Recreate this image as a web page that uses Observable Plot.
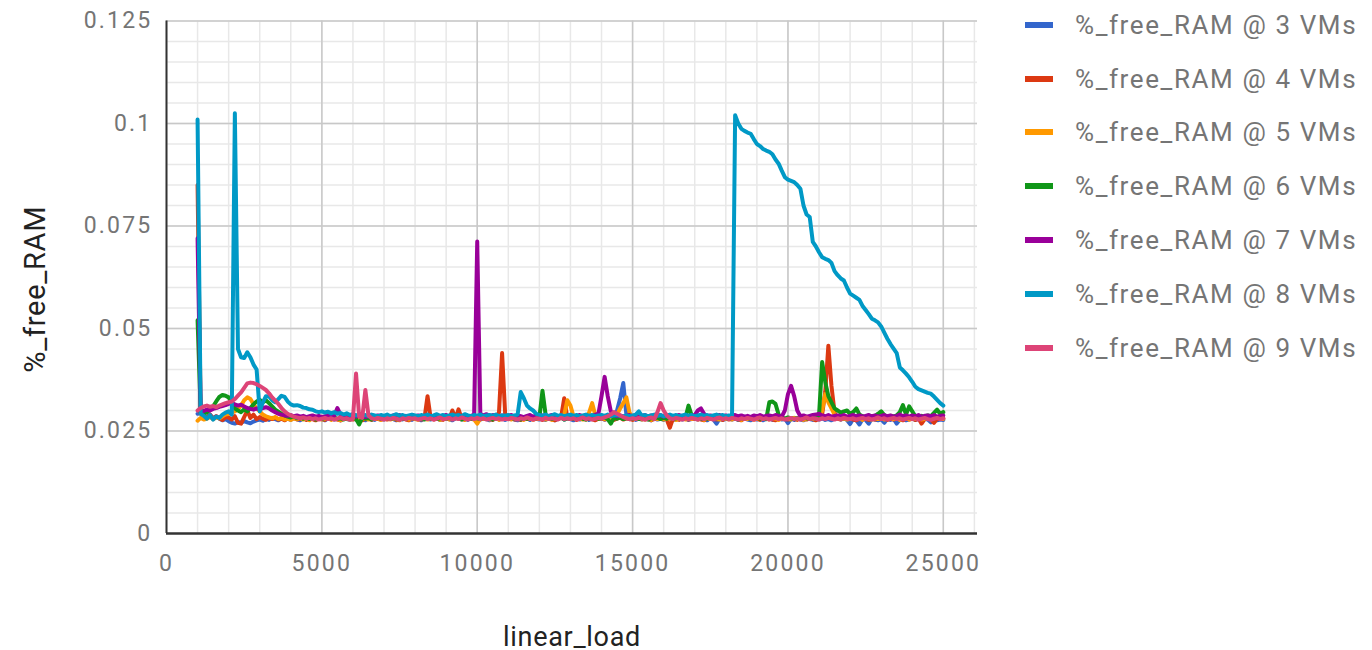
<!DOCTYPE html>
<html>
<head>
<meta charset="utf-8">
<script src="https://cdn.jsdelivr.net/npm/d3@7"></script>
<script src="https://cdn.jsdelivr.net/npm/@observablehq/plot@0.6"></script>
<style>
  html, body { margin: 0; padding: 0; background: #fff; }
  #chart { position: relative; width: 1372px; height: 650px; }
  #chart svg text { letter-spacing: 2.2px; }
  #chart svg g[aria-label="text"] text { letter-spacing: 0.7px; }
  #legend { position: absolute; left: 1025px; top: -2px; font-family: Roboto, sans-serif; font-size: 26px; color: #757575; }
  #legend .row { display: flex; align-items: center; height: 53.8px; white-space: nowrap; letter-spacing: 1.6px; }
  #legend .sw { width: 28px; height: 6px; margin-right: 22px; }
</style>
</head>
<body>
<div id="chart"></div>
<script>
// Load steps shared by every series (1000 to 25000, every 100)
const linearLoad = d3.range(1000, 25001, 100);

const seriesNames = [
  "%_free_RAM @ 3 VMs", "%_free_RAM @ 4 VMs", "%_free_RAM @ 5 VMs", "%_free_RAM @ 6 VMs",
  "%_free_RAM @ 7 VMs", "%_free_RAM @ 8 VMs", "%_free_RAM @ 9 VMs"
];
const seriesColors = ["#3366cc", "#dc3912", "#ff9900", "#109618", "#990099", "#0099c6", "#dd4477"];

const xTicks = [0, 5000, 10000, 15000, 20000, 25000];
const yTicks = [0, 0.025, 0.05, 0.075, 0.1, 0.125];
const xMinorTicks = d3.range(0, 26001, 1000);
const yMinorTicks = d3.range(0, 0.1251, 0.005);

const ram3VMs = [
  .0292,.0295,.0288,.0284,.0290,.0281,.0286,.0280,.0276,.0279,
  .0274,.0270,.0268,.0272,.0270,.0274,.0271,.0269,.0273,.0276,
  .0278,.0275,.0280,.0277,.0282,.0279,.0276,.0281,.0278,.0280,
  .0277,.0283,.0279,.0276,.0281,.0278,.0284,.0280,.0277,.0282,
  .0279,.0276,.0281,.0285,.0278,.0280,.0276,.0283,.0279,.0277,
  .0281,.0278,.0284,.0280,.0276,.0282,.0279,.0277,.0283,.0280,
  .0278,.0282,.0287,.0279,.0276,.0281,.0278,.0284,.0280,.0277,
  .0282,.0279,.0276,.0283,.0280,.0278,.0285,.0281,.0277,.0280,
  .0283,.0279,.0276,.0281,.0284,.0278,.0280,.0277,.0282,.0279,
  .0281,.0278,.0283,.0279,.0276,.0280,.0284,.0278,.0281,.0277,
  .0280,.0283,.0278,.0276,.0282,.0279,.0281,.0277,.0284,.0280,
  .0278,.0281,.0277,.0283,.0279,.0276,.0280,.0285,.0278,.0281,
  .0279,.0276,.0282,.0278,.0281,.0284,.0277,.0280,.0283,.0279,
  .0281,.0278,.0280,.0284,.0282,.0300,.0330,.0367,.0290,.0279,
  .0282,.0277,.0280,.0278,.0283,.0279,.0276,.0281,.0278,.0280,
  .0277,.0282,.0279,.0276,.0280,.0283,.0278,.0281,.0277,.0279,
  .0281,.0278,.0283,.0279,.0276,.0282,.0278,.0268,.0280,.0277,
  .0279,.0282,.0278,.0281,.0277,.0280,.0283,.0278,.0276,.0281,
  .0278,.0281,.0276,.0280,.0282,.0277,.0279,.0283,.0278,.0280,
  .0269,.0280,.0277,.0281,.0278,.0276,.0282,.0279,.0277,.0280,
  .0278,.0281,.0277,.0279,.0276,.0280,.0283,.0278,.0281,.0277,
  .0267,.0280,.0276,.0266,.0279,.0277,.0268,.0281,.0278,.0276,
  .0279,.0270,.0281,.0277,.0280,.0268,.0278,.0282,.0276,.0279,
  .0281,.0277,.0279,.0276,.0280,.0278,.0271,.0279,.0276,.0278,
  .0277
];

const ram4VMs = [
  .0850,.0292,.0287,.0283,.0290,.0280,.0286,.0281,.0277,.0284,
  .0283,.0278,.0286,.0270,.0268,.0284,.0300,.0282,.0290,.0279,
  .0284,.0280,.0277,.0282,.0279,.0283,.0278,.0280,.0276,.0281,
  .0279,.0282,.0278,.0280,.0283,.0277,.0281,.0279,.0276,.0282,
  .0280,.0277,.0283,.0279,.0281,.0278,.0276,.0282,.0279,.0280,
  .0278,.0281,.0279,.0276,.0282,.0280,.0277,.0283,.0279,.0278,
  .0281,.0278,.0280,.0283,.0277,.0279,.0282,.0278,.0276,.0281,
  .0279,.0282,.0278,.0280,.0335,.0282,.0278,.0281,.0279,.0277,
  .0282,.0279,.0300,.0281,.0303,.0280,.0278,.0283,.0279,.0281,
  .0280,.0278,.0282,.0279,.0281,.0277,.0283,.0295,.0440,.0290,
  .0279,.0282,.0278,.0280,.0277,.0281,.0279,.0283,.0278,.0280,
  .0281,.0277,.0280,.0282,.0279,.0276,.0281,.0284,.0330,.0282,
  .0279,.0281,.0277,.0280,.0283,.0278,.0281,.0279,.0276,.0280,
  .0282,.0278,.0281,.0279,.0277,.0280,.0283,.0278,.0281,.0279,
  .0277,.0281,.0279,.0282,.0278,.0280,.0276,.0281,.0283,.0279,
  .0280,.0278,.0258,.0281,.0279,.0277,.0282,.0280,.0278,.0281,
  .0279,.0282,.0278,.0276,.0281,.0279,.0283,.0278,.0280,.0277,
  .0281,.0278,.0280,.0283,.0279,.0276,.0282,.0279,.0281,.0278,
  .0280,.0277,.0281,.0279,.0282,.0278,.0276,.0280,.0283,.0279,
  .0278,.0281,.0279,.0277,.0282,.0280,.0278,.0281,.0279,.0276,
  .0280,.0290,.0345,.0458,.0360,.0295,.0280,.0278,.0282,.0279,
  .0281,.0278,.0276,.0280,.0283,.0279,.0277,.0281,.0278,.0280,
  .0279,.0282,.0277,.0280,.0278,.0281,.0279,.0276,.0282,.0278,
  .0280,.0277,.0281,.0268,.0279,.0282,.0278,.0270,.0280,.0279,
  .0281
];

const ram5VMs = [
  .0275,.0282,.0278,.0280,.0284,.0279,.0283,.0281,.0286,.0290,
  .0292,.0295,.0298,.0304,.0312,.0325,.0332,.0328,.0315,.0305,
  .0298,.0290,.0286,.0283,.0281,.0284,.0279,.0282,.0278,.0280,
  .0277,.0281,.0279,.0283,.0278,.0280,.0276,.0282,.0279,.0281,
  .0278,.0280,.0283,.0277,.0281,.0279,.0276,.0282,.0280,.0278,
  .0281,.0279,.0277,.0282,.0280,.0278,.0283,.0279,.0281,.0277,
  .0280,.0282,.0278,.0281,.0279,.0276,.0283,.0280,.0278,.0281,
  .0279,.0277,.0282,.0280,.0278,.0281,.0279,.0283,.0277,.0280,
  .0282,.0278,.0280,.0286,.0279,.0281,.0277,.0282,.0280,.0278,
  .0268,.0281,.0279,.0283,.0278,.0280,.0282,.0277,.0281,.0279,
  .0280,.0278,.0282,.0279,.0281,.0277,.0283,.0280,.0278,.0281,
  .0279,.0282,.0278,.0280,.0277,.0281,.0279,.0283,.0290,.0325,
  .0312,.0285,.0279,.0281,.0278,.0280,.0295,.0318,.0288,.0280,
  .0282,.0279,.0281,.0278,.0283,.0290,.0305,.0318,.0332,.0295,
  .0281,.0279,.0282,.0278,.0280,.0283,.0277,.0281,.0279,.0280,
  .0278,.0282,.0279,.0281,.0277,.0280,.0283,.0278,.0281,.0279,
  .0282,.0278,.0280,.0277,.0281,.0279,.0283,.0280,.0278,.0281,
  .0279,.0281,.0278,.0283,.0280,.0277,.0281,.0279,.0282,.0278,
  .0280,.0283,.0279,.0281,.0278,.0282,.0280,.0277,.0281,.0279,
  .0281,.0278,.0282,.0279,.0281,.0277,.0280,.0283,.0279,.0280,
  .0282,.0300,.0340,.0320,.0305,.0290,.0282,.0279,.0281,.0278,
  .0280,.0282,.0279,.0281,.0277,.0283,.0280,.0278,.0281,.0279,
  .0282,.0278,.0280,.0283,.0279,.0281,.0277,.0280,.0282,.0278,
  .0281,.0279,.0282,.0278,.0280,.0283,.0279,.0281,.0284,.0280,
  .0279
];

const ram6VMs = [
  .0520,.0295,.0292,.0296,.0302,.0310,.0322,.0333,.0338,.0336,
  .0332,.0318,.0305,.0300,.0296,.0303,.0298,.0306,.0315,.0322,
  .0326,.0320,.0325,.0318,.0310,.0302,.0297,.0292,.0288,.0285,
  .0283,.0286,.0281,.0284,.0280,.0283,.0279,.0282,.0278,.0281,
  .0279,.0282,.0284,.0280,.0283,.0279,.0281,.0278,.0282,.0280,
  .0282,.0279,.0266,.0283,.0280,.0282,.0278,.0281,.0284,.0279,
  .0281,.0283,.0279,.0282,.0280,.0278,.0282,.0279,.0283,.0280,
  .0282,.0279,.0281,.0278,.0283,.0280,.0282,.0279,.0281,.0284,
  .0280,.0282,.0279,.0283,.0281,.0278,.0282,.0280,.0279,.0283,
  .0281,.0279,.0283,.0280,.0282,.0278,.0281,.0283,.0279,.0282,
  .0280,.0283,.0279,.0281,.0278,.0282,.0280,.0283,.0279,.0281,
  .0283,.0348,.0290,.0281,.0279,.0282,.0280,.0283,.0278,.0281,
  .0282,.0279,.0281,.0283,.0280,.0278,.0282,.0279,.0283,.0280,
  .0281,.0283,.0279,.0268,.0282,.0280,.0283,.0279,.0281,.0282,
  .0280,.0282,.0279,.0283,.0281,.0278,.0282,.0280,.0283,.0279,
  .0282,.0280,.0283,.0279,.0281,.0283,.0280,.0282,.0312,.0288,
  .0281,.0283,.0279,.0282,.0280,.0283,.0279,.0281,.0284,.0280,
  .0282,.0279,.0283,.0281,.0278,.0282,.0280,.0283,.0279,.0281,
  .0283,.0280,.0282,.0279,.0320,.0322,.0316,.0290,.0282,.0280,
  .0283,.0281,.0279,.0282,.0280,.0283,.0281,.0279,.0282,.0280,
  .0288,.0418,.0370,.0335,.0320,.0305,.0300,.0295,.0298,.0300,
  .0292,.0296,.0305,.0290,.0286,.0284,.0288,.0285,.0287,.0292,
  .0298,.0289,.0284,.0287,.0285,.0288,.0296,.0313,.0290,.0310,
  .0298,.0286,.0284,.0287,.0285,.0288,.0286,.0294,.0302,.0292,
  .0296
];

const ram7VMs = [
  .0720,.0296,.0299,.0302,.0300,.0304,.0306,.0309,.0311,.0313,
  .0316,.0318,.0315,.0312,.0314,.0310,.0306,.0304,.0302,.0305,
  .0303,.0306,.0308,.0305,.0300,.0296,.0292,.0290,.0288,.0287,
  .0289,.0286,.0288,.0285,.0287,.0284,.0286,.0288,.0285,.0287,
  .0284,.0286,.0289,.0285,.0288,.0306,.0290,.0286,.0288,.0285,
  .0287,.0285,.0288,.0286,.0284,.0287,.0289,.0285,.0288,.0286,
  .0284,.0287,.0285,.0288,.0286,.0289,.0285,.0287,.0284,.0288,
  .0286,.0288,.0285,.0287,.0289,.0286,.0284,.0288,.0285,.0287,
  .0289,.0285,.0287,.0284,.0288,.0286,.0289,.0285,.0287,.0290,
  .0712,.0292,.0288,.0291,.0286,.0289,.0287,.0285,.0288,.0286,
  .0287,.0289,.0285,.0288,.0286,.0284,.0287,.0289,.0285,.0288,
  .0286,.0288,.0285,.0287,.0289,.0286,.0284,.0288,.0285,.0287,
  .0288,.0285,.0287,.0289,.0286,.0288,.0284,.0287,.0290,.0292,
  .0335,.0382,.0335,.0298,.0289,.0286,.0288,.0285,.0287,.0289,
  .0286,.0288,.0285,.0287,.0289,.0286,.0288,.0285,.0287,.0289,
  .0285,.0288,.0286,.0284,.0287,.0289,.0286,.0288,.0285,.0287,
  .0289,.0300,.0305,.0292,.0286,.0288,.0285,.0287,.0289,.0286,
  .0288,.0285,.0287,.0289,.0286,.0288,.0285,.0287,.0284,.0288,
  .0286,.0289,.0285,.0287,.0288,.0286,.0289,.0287,.0285,.0300,
  .0340,.0360,.0335,.0300,.0286,.0288,.0285,.0287,.0289,.0290,
  .0292,.0288,.0286,.0289,.0285,.0287,.0288,.0286,.0289,.0285,
  .0287,.0289,.0286,.0288,.0285,.0287,.0289,.0286,.0288,.0285,
  .0287,.0289,.0286,.0288,.0285,.0287,.0290,.0286,.0288,.0285,
  .0288,.0286,.0289,.0285,.0287,.0288,.0286,.0289,.0285,.0287,
  .0288
];

const ram8VMs = [
  .1010,.0292,.0287,.0280,.0289,.0278,.0285,.0282,.0290,.0295,
  .0298,.0290,.1025,.0450,.0430,.0428,.0442,.0430,.0412,.0400,
  .0298,.0320,.0335,.0334,.0325,.0320,.0328,.0336,.0333,.0322,
  .0315,.0312,.0313,.0311,.0307,.0306,.0303,.0302,.0298,.0296,
  .0298,.0295,.0297,.0293,.0296,.0292,.0294,.0290,.0293,.0289,
  .0291,.0288,.0290,.0287,.0289,.0286,.0290,.0288,.0286,.0289,
  .0287,.0290,.0286,.0288,.0291,.0287,.0289,.0286,.0288,.0290,
  .0288,.0286,.0289,.0287,.0290,.0286,.0288,.0291,.0287,.0289,
  .0286,.0288,.0290,.0287,.0289,.0286,.0291,.0288,.0286,.0289,
  .0287,.0290,.0286,.0288,.0289,.0287,.0290,.0286,.0288,.0287,
  .0289,.0286,.0288,.0290,.0345,.0330,.0312,.0305,.0300,.0292,
  .0289,.0287,.0290,.0286,.0288,.0291,.0287,.0289,.0286,.0288,
  .0290,.0287,.0289,.0286,.0288,.0290,.0287,.0289,.0286,.0288,
  .0289,.0287,.0290,.0286,.0288,.0289,.0287,.0285,.0288,.0286,
  .0288,.0290,.0298,.0287,.0289,.0286,.0288,.0290,.0287,.0289,
  .0286,.0288,.0290,.0287,.0289,.0286,.0288,.0290,.0287,.0289,
  .0286,.0288,.0290,.0287,.0289,.0286,.0288,.0290,.0287,.0289,
  .0286,.0288,.0287,.1020,.1000,.0987,.0982,.0978,.0975,.0962,
  .0950,.0945,.0938,.0934,.0931,.0925,.0912,.0902,.0885,.0869,
  .0863,.0860,.0857,.0850,.0841,.0800,.0778,.0772,.0711,.0700,
  .0686,.0674,.0670,.0667,.0660,.0640,.0630,.0622,.0617,.0600,
  .0585,.0580,.0575,.0570,.0555,.0545,.0535,.0524,.0520,.0515,
  .0505,.0490,.0475,.0462,.0451,.0440,.0405,.0398,.0390,.0381,
  .0370,.0358,.0352,.0349,.0346,.0343,.0341,.0334,.0326,.0318,
  .0312
];

const ram9VMs = [
  .0300,.0306,.0310,.0312,.0309,.0311,.0308,.0312,.0315,.0318,
  .0320,.0322,.0328,.0336,.0344,.0355,.0366,.0368,.0367,.0364,
  .0360,.0355,.0350,.0342,.0332,.0324,.0316,.0306,.0298,.0292,
  .0288,.0285,.0283,.0281,.0283,.0280,.0282,.0279,.0281,.0278,
  .0280,.0282,.0279,.0281,.0278,.0280,.0283,.0279,.0281,.0278,
  .0280,.0390,.0285,.0282,.0350,.0288,.0281,.0279,.0282,.0280,
  .0278,.0281,.0279,.0282,.0280,.0277,.0281,.0279,.0282,.0280,
  .0281,.0278,.0280,.0282,.0279,.0281,.0278,.0280,.0283,.0279,
  .0280,.0282,.0278,.0281,.0279,.0283,.0280,.0278,.0281,.0279,
  .0282,.0279,.0281,.0278,.0280,.0282,.0279,.0281,.0278,.0280,
  .0279,.0282,.0280,.0278,.0281,.0279,.0283,.0280,.0278,.0281,
  .0280,.0278,.0282,.0279,.0281,.0280,.0278,.0282,.0279,.0281,
  .0279,.0281,.0278,.0280,.0283,.0279,.0281,.0278,.0280,.0282,
  .0280,.0283,.0286,.0290,.0296,.0292,.0288,.0284,.0281,.0279,
  .0281,.0279,.0282,.0280,.0278,.0281,.0283,.0279,.0296,.0318,
  .0300,.0288,.0281,.0279,.0282,.0280,.0278,.0281,.0279,.0282,
  .0280,.0278,.0281,.0279,.0282,.0280,.0278,.0281,.0283,.0279,
  .0281,.0279,.0282,.0280,.0278,.0281,.0279,.0282,.0280,.0278,
  .0281,.0283,.0279,.0281,.0278,.0280,.0282,.0279,.0281,.0278,
  .0280,.0282,.0279,.0281,.0278,.0280,.0283,.0279,.0281,.0280,
  .0278,.0281,.0279,.0282,.0280,.0278,.0281,.0279,.0282,.0280,
  .0279,.0281,.0278,.0280,.0282,.0279,.0281,.0278,.0280,.0283,
  .0279,.0281,.0278,.0280,.0282,.0279,.0281,.0278,.0280,.0282,
  .0279,.0281,.0278,.0280,.0282,.0279,.0277,.0280,.0282,.0279,
  .0281
];

const seriesValues = [ram3VMs, ram4VMs, ram5VMs, ram6VMs, ram7VMs, ram8VMs, ram9VMs];

// Long-format table for the line mark
const rows = seriesValues.flatMap((vals, s) =>
  vals.map((v, i) => ({load: linearLoad[i], value: v, series: seriesNames[s]}))
);

const chart = Plot.plot({
  width: 1372,
  height: 650,
  marginLeft: 166,
  marginRight: 395,
  marginTop: 20.5,
  marginBottom: 117,
  style: {fontFamily: "Roboto, sans-serif", fontSize: "23px", color: "#757575", background: "#fff", overflow: "visible"},
  x: {domain: [0, 26100], ticks: xTicks, tickSize: 0, tickPadding: 21, tickFormat: d => String(d), label: null},
  y: {domain: [0, 0.125], ticks: yTicks, tickSize: 0, tickPadding: 14, tickFormat: d => String(d), label: null},
  color: {domain: seriesNames, range: seriesColors},
  marks: [
    Plot.ruleX(xMinorTicks, {stroke: "#e8e8e8", strokeWidth: 1.5}),
    Plot.ruleY(yMinorTicks, {stroke: "#e8e8e8", strokeWidth: 1.5}),
    Plot.ruleX(xTicks.filter(d => d > 0), {stroke: "#c8c8c8", strokeWidth: 1.5}),
    Plot.ruleY(yTicks.filter(d => d > 0), {stroke: "#c8c8c8", strokeWidth: 1.5}),
    Plot.line(rows, {x: "load", y: "value", z: "series", stroke: "series", strokeWidth: 4}),
    Plot.ruleX([0], {stroke: "#333", strokeWidth: 2}),
    Plot.ruleY([0], {stroke: "#333", strokeWidth: 2.5}),
    Plot.text(["linear_load"], {frameAnchor: "bottom", dy: 112, fontSize: 27, fill: "#222"}),
    Plot.text(["%_free_RAM"], {frameAnchor: "left", textAnchor: "middle", dx: -131, dy: 12, rotate: -90, fontSize: 29, fill: "#222"})
  ]
});

const host = document.getElementById("chart");
host.appendChild(chart);

// Legend column on the right
const legend = document.createElement("div");
legend.id = "legend";
seriesNames.forEach((name, i) => {
  const row = document.createElement("div");
  row.className = "row";
  const sw = document.createElement("span");
  sw.className = "sw";
  sw.style.background = seriesColors[i];
  const label = document.createElement("span");
  label.textContent = name;
  row.appendChild(sw);
  row.appendChild(label);
  legend.appendChild(row);
});
host.appendChild(legend);
</script>
</body>
</html>
